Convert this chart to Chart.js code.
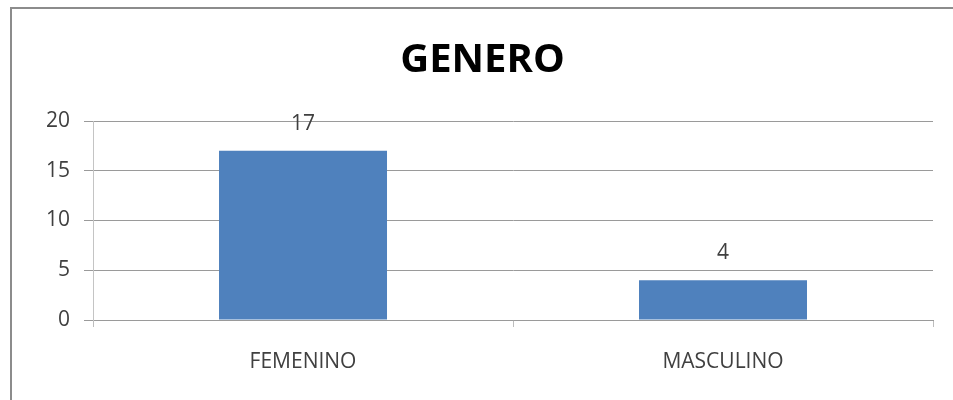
<!DOCTYPE html>
<html>
<head>
<meta charset="utf-8">
<script src="https://cdn.jsdelivr.net/npm/chart.js@4"></script>
<style>
  body { margin: 0; background: #fff; }
  #wrap { position: relative; width: 953px; height: 400px; overflow: hidden; }
  #frame { position: absolute; left: 10px; top: 7px; width: 1000px; height: 500px; border: 2px solid #8c8c8c; box-sizing: border-box; }
  #myChart { position: absolute; left: 0; top: 0; }
</style>
</head>
<body>
<div id="wrap">
  <div id="frame"></div>
  <canvas id="myChart" width="953" height="400"></canvas>
</div>
<script>
// chart data
const categories = ["FEMENINO", "MASCULINO"];
const values = [17, 4];
const yTicks = [0, 5, 10, 15, 20];

// draws the value above each bar, like the excel data labels
const valueLabels = {
    id: "valueLabels",
    afterDatasetsDraw(chart) {
        const ctx = chart.ctx;
        const meta = chart.getDatasetMeta(0);
        ctx.save();
        ctx.font = "21px 'Open Sans'";
        ctx.fillStyle = "#404040";
        ctx.textAlign = "center";
        ctx.textBaseline = "middle";
        meta.data.forEach((bar, i) => {
            ctx.fillText(String(values[i]), bar.x, bar.y - 27);
        });
        ctx.restore();
    },
};

const ctx = document.getElementById("myChart").getContext("2d");
new Chart(ctx, {
    type: "bar",
    data: {
        labels: categories,
        datasets: [
            {
                label: "GENERO",
                data: values,
                backgroundColor: "#4F81BD",
                borderWidth: 0,
                categoryPercentage: 1,
                barPercentage: 0.4,
            },
        ],
    },
    options: {
        responsive: false,
        animation: false,
        layout: { padding: { left: 32, right: 20, top: 20, bottom: 2 } },
        plugins: {
            legend: { display: false },
            tooltip: { enabled: false },
            title: {
                display: true,
                text: "GENERO",
                color: "#000",
                font: { family: "'Open Sans'", size: 40, weight: "bold" },
                padding: { top: 17, bottom: 36 },
            },
        },
        scales: {
            x: {
                offset: true,
                grid: {
                    offset: true,
                    drawOnChartArea: false,
                    drawTicks: true,
                    tickLength: 7,
                    color: "#bdbdbd",
                },
                border: { color: "#9a9a9a" },
                ticks: {
                    color: "#404040",
                    font: { family: "'Open Sans'", size: 21, lineHeight: 1 },
                    padding: 25,
                },
            },
            y: {
                min: 0,
                max: 20,
                afterBuildTicks(axis) {
                    axis.ticks = yTicks.map((v) => ({ value: v }));
                },
                grid: { color: "#9a9a9a", tickLength: 9 },
                border: { color: "#c4c4c4" },
                ticks: {
                    color: "#404040",
                    font: { family: "'Open Sans'", size: 21 },
                    padding: 14,
                },
            },
        },
    },
    plugins: [valueLabels],
});
</script>
</body>
</html>
